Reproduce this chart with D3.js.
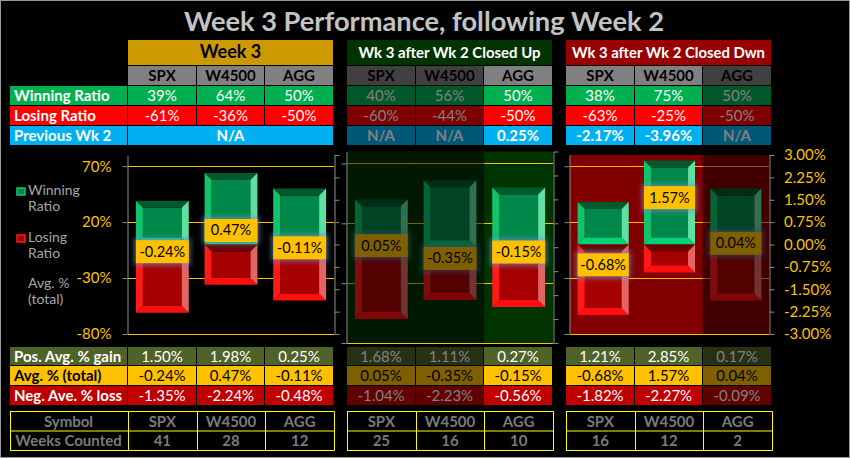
<!DOCTYPE html>
<html><head><meta charset="utf-8">
<script src="https://cdn.jsdelivr.net/npm/d3@7"></script>
<style>html,body{margin:0;padding:0;background:#000;} svg{display:block;}</style>
</head><body><svg id="c" width="850" height="458"></svg>
<script>
// ---------------- data ----------------
const title = "Week 3 Performance, following Week 2";
const groupNames = ["Week 3", "Wk 3 after Wk 2 Closed Up", "Wk 3 after Wk 2 Closed Dwn"];
const symbols = ["SPX", "W4500", "AGG"];
const winningRatio = [[39, 64, 50], [40, 56, 50], [38, 75, 50]];
const losingRatio = [[-61, -36, -50], [-60, -44, -50], [-63, -25, -50]];
const previousWk2 = [["N/A"], ["N/A", "N/A", "0.25%"], ["-2.17%", "-3.96%", "N/A"]];
const posAvgGain = [[1.50, 1.98, 0.25], [1.68, 1.11, 0.27], [1.21, 2.85, 0.17]];
const avgTotal = [[-0.24, 0.47, -0.11], [0.05, -0.35, -0.15], [-0.68, 1.57, 0.04]];
const negAvgLoss = [[-1.35, -2.24, -0.48], [-1.04, -2.23, -0.56], [-1.82, -2.27, -0.09]];
const weeksCounted = [[41, 28, 12], [25, 16, 10], [16, 12, 2]];
const highlighted = [[true, true, true], [false, false, true], [true, true, false]];
const ratioTicks = [70, 20, -30, -80];
const avgTicks = [3, 2.25, 1.5, 0.75, 0, -0.75, -1.5, -2.25, -3];
const topRowLabels = ["Winning Ratio", "Losing Ratio", "Previous Wk 2"];
const bottomRowLabels = ["Pos. Avg. % gain", "Avg. % (total)", "Neg. Ave. % loss"];
const countRowLabels = ["Symbol", "Weeks Counted"];
const legendLabels = [["Winning", "Ratio"], ["Losing", "Ratio"], ["Avg. %", "(total)"]];

// ---------------- layout / style ----------------
const F = "Lato, 'Open Sans', sans-serif";
const svg = d3.select("#c");
const tableX = [[128, 334], [347, 553], [566, 772]];
const plots = [{x0:128,x1:334,y0:155,y1:334},{x0:347,x1:553,y0:151.5,y1:343},{x0:570,x1:769,y0:155,y1:334}];
const groupFill = ["#cc9900", "#003300", "#990000"];
const groupTextColor = ["#000", "#fff", "#fff"];
const plotBg = [null, "#003300", "#800000"];
const pct = v => (v < 0 ? "-" : "") + Math.abs(v).toFixed(2) + "%";
const ratioFmt = v => v + "%";

const defs = svg.append("defs");
defs.append("filter").attr("id","glow").attr("x","-30%").attr("y","-60%").attr("width","160%").attr("height","220%")
  .append("feGaussianBlur").attr("stdDeviation", 2.6);

svg.append("rect").attr("x",0).attr("y",0).attr("width",850).attr("height",458).attr("fill","#000");
svg.append("rect").attr("x",0.5).attr("y",0.5).attr("width",849).attr("height",457).attr("fill","none").attr("stroke","#9a9a9a");

function txt(x, y, s, o = {}) {
  const t = svg.append("text").attr("x", x).attr("y", y).text(s)
    .attr("font-family", F).attr("font-size", o.size || 15)
    .attr("font-weight", o.bold ? "bold" : "normal")
    .attr("fill", o.fill || "#fff").attr("text-anchor", o.anchor || "middle");
  if (o.fit) {
    const L = t.node().getComputedTextLength();
    if (o.force || L > o.fit) t.attr("textLength", o.fit).attr("lengthAdjust", "spacingAndGlyphs");
  }
  return t;
}
function cell(x, y, w, h, fill, s, o = {}) {
  svg.append("rect").attr("x", x).attr("y", y).attr("width", w).attr("height", h).attr("fill", fill);
  if (s !== undefined && s !== null) {
    if (o.anchor === "start") txt(x + 4, y + h / 2 + 5.5, s, o);
    else txt(x + w / 2, y + h / 2 + 5.5, s, o);
  }
}

// title
txt(424, 31, title, {size: 27, bold: true, fill: "#c3c3c3", fit: 480, force: true});

// ---------------- top table ----------------
const topRows = [{y:86,h:19,fill:"#00b050"},{y:106,h:19,fill:"#ff0000"},{y:126,h:19,fill:"#00b0f0"}];
topRows.forEach((r, i) => cell(10, r.y, 117, r.h, r.fill, topRowLabels[i], {anchor:"start", bold:true}));
const botRows = [{y:347,h:18,fill:"#4f6228",tc:"#fff"},{y:366,h:19,fill:"#ffc000",tc:"#000"},{y:386,h:19,fill:"#c00000",tc:"#fff"}];
botRows.forEach((r, i) => cell(10, r.y, 117, r.h, r.fill, bottomRowLabels[i], {anchor:"start", bold:true, fill:r.tc}));

tableX.forEach(([x0, x1], g) => {
  const xb = d3.scaleBand().domain(symbols).range([x0, x1]);
  const L = s => Math.round(xb(s));
  const W = s => Math.round(xb(s) + xb.bandwidth()) - Math.round(xb(s)) - 1;
  cell(x0, 40, x1 - x0 - 1, 25, groupFill[g], groupNames[g],
       {bold:true, size: g === 0 ? 18 : 16, fill: groupTextColor[g], fit: g === 0 ? 200 : (g === 1 ? 182 : 193)});
  symbols.forEach((s, c) => {
    cell(L(s), 66, W(s), 19, "#808080", s, {bold:true, fill:"#000"});
    cell(L(s), 86, W(s), 19, "#00b050", winningRatio[g][c] + "%");
    cell(L(s), 106, W(s), 19, "#ff0000", losingRatio[g][c] + "%");
    if (previousWk2[g].length === 3) cell(L(s), 126, W(s), 19, "#00b0f0", previousWk2[g][c], {bold:true});
    cell(L(s), 347, W(s), 18, botRows[0].fill, pct(posAvgGain[g][c]), {fill: botRows[0].tc});
    cell(L(s), 366, W(s), 19, botRows[1].fill, pct(avgTotal[g][c]), {fill: botRows[1].tc});
    cell(L(s), 386, W(s), 19, botRows[2].fill, pct(negAvgLoss[g][c]), {fill: botRows[2].tc});
  });
  if (previousWk2[g].length === 1) cell(x0, 126, x1 - x0 - 1, 19, "#00b0f0", previousWk2[g][0], {bold:true});
  // dim overlays for columns not highlighted
  symbols.forEach((s, c) => {
    if (highlighted[g][c]) return;
    svg.append("rect").attr("x", L(s)).attr("y", 66).attr("width", W(s)).attr("height", 79).attr("fill", "#000").attr("opacity", 0.5);
    svg.append("rect").attr("x", L(s)).attr("y", 347).attr("width", W(s)).attr("height", 58).attr("fill", "#000").attr("opacity", 0.5);
  });
  // symbol / weeks counted table
  const tx0 = g === 0 ? 10 : x0;
  const edges = (g === 0 ? [10] : []).concat(symbols.map(s => xb(s)), [x1]);
  const tg = svg.append("g");
  [411.5, 431, 450.5].forEach(y => tg.append("line").attr("x1", tx0).attr("x2", x1 + 0.5).attr("y1", y).attr("y2", y)
    .attr("stroke", "#ffff00").attr("stroke-width", 1));
  edges.forEach(x => tg.append("line").attr("x1", Math.round(x) + 0.5).attr("x2", Math.round(x) + 0.5).attr("y1", 411.5).attr("y2", 450.5)
    .attr("stroke", "#ffff00").attr("stroke-width", 1));
  if (g === 0) {
    txt(68.5, 427, countRowLabels[0], {bold:true, fill:"#7a7a7a"});
    txt(68.5, 446, countRowLabels[1], {bold:true, fill:"#7a7a7a"});
  }
  symbols.forEach((s, c) => {
    txt(xb(s) + xb.bandwidth() / 2, 427, s, {bold:true, fill:"#7a7a7a"});
    txt(xb(s) + xb.bandwidth() / 2, 446, weeksCounted[g][c], {bold:true, fill:"#7a7a7a"});
  });
});

// ---------------- charts ----------------
const greenBevel = {face:"#00884a", top:"#005a2e", left:"#10c46e", right:"#5fe0a0", bottom:"#00d277"};
const redBevel = {face:"#a60000", top:"#6a0000", left:"#ff1a1a", right:"#e46464", bottom:"#ff0e0e"};
function bevelBar(gp, x, y, w, h, c) {
  const b = Math.min(7, h / 2, w / 2);
  const poly = (pts, f) => gp.append("polygon").attr("points", pts.map(p => p.join(",")).join(" ")).attr("fill", f);
  gp.append("rect").attr("x", x + b).attr("y", y + b).attr("width", w - 2 * b).attr("height", h - 2 * b).attr("fill", c.face);
  poly([[x, y], [x + w, y], [x + w - b, y + b], [x + b, y + b]], c.top);
  poly([[x, y + h], [x + w, y + h], [x + w - b, y + h - b], [x + b, y + h - b]], c.bottom);
  poly([[x, y], [x + b, y + b], [x + b, y + h - b], [x, y + h]], c.left);
  poly([[x + w, y], [x + w - b, y + b], [x + w - b, y + h - b], [x + w, y + h]], c.right);
}

plots.forEach((p, g) => {
  const gp = svg.append("g");
  const yP = d3.scaleLinear().domain([-80, 80]).range([p.y1, p.y0]);
  const yS = d3.scaleLinear().domain([-3, 3]).range([p.y1, p.y0]);
  const xb = d3.scaleBand().domain(symbols).range([p.x0, p.x1]).paddingInner(0.23).paddingOuter(0.115);
  if (plotBg[g]) gp.append("rect").attr("x", p.x0).attr("y", p.y0).attr("width", p.x1 - p.x0).attr("height", p.y1 - p.y0).attr("fill", plotBg[g]);
  ratioTicks.forEach(t => gp.append("line").attr("x1", p.x0).attr("x2", p.x1)
    .attr("y1", Math.round(yP(t)) + 0.5).attr("y2", Math.round(yP(t)) + 0.5).attr("stroke", "#ffc000").attr("stroke-width", 1));
  symbols.forEach((s, c) => {
    const x = xb(s), w = xb.bandwidth();
    bevelBar(gp, x, yP(winningRatio[g][c]), w, yP(0) - yP(winningRatio[g][c]), greenBevel);
    bevelBar(gp, x, yP(0), w, yP(losingRatio[g][c]) - yP(0), redBevel);
  });
  symbols.forEach((s, c) => {
    const x = xb(s), w = xb.bandwidth(), yc = yS(avgTotal[g][c]);
    gp.append("rect").attr("x", x - 2).attr("y", yc - 14).attr("width", w + 4).attr("height", 28)
      .attr("fill", "#6f90c8").attr("opacity", 0.6).attr("filter", "url(#glow)");
    gp.append("rect").attr("x", x).attr("y", yc - 11.5).attr("width", w).attr("height", 23).attr("fill", "#ffc000");
    gp.append("text").attr("x", x + w / 2).attr("y", yc + 5).attr("text-anchor", "middle")
      .attr("font-family", F).attr("font-size", 14.5).attr("fill", "#000").text(pct(avgTotal[g][c]));
  });
  const step = xb.step();
  symbols.forEach((s, c) => {
    if (highlighted[g][c]) return;
    gp.append("rect").attr("x", p.x0 + c * step).attr("y", p.y0).attr("width", step).attr("height", p.y1 - p.y0)
      .attr("fill", "#000").attr("opacity", 0.5);
  });
  // axes
  const axL = svg.append("g").attr("transform", `translate(${p.x0 - 0.5},0)`)
    .call(d3.axisLeft(yP).tickValues(ratioTicks).tickSize(5).tickSizeOuter(0).tickPadding(11)
      .tickFormat(g === 0 ? ratioFmt : () => ""));
  const axR = svg.append("g").attr("transform", `translate(${p.x1 + 0.5},0)`)
    .call(d3.axisRight(yS).tickValues(avgTicks).tickSize(5).tickSizeOuter(0).tickPadding(9.5)
      .tickFormat(g === 2 ? pct : () => ""));
  [axL, axR].forEach(ax => {
    ax.select(".domain").attr("stroke", "#8c8c8c");
    ax.selectAll(".tick line").attr("stroke", "#8c8c8c");
    ax.selectAll("text").attr("fill", "#ffc000").attr("font-family", F).attr("font-size", 15);
  });
});

// ---------------- legend ----------------
const legendColors = [greenBevel, redBevel, null];
const legendY = [195, 242, 288];
legendLabels.forEach((lines, i) => {
  const c = legendColors[i];
  if (c) {
    svg.append("rect").attr("x", 17).attr("y", legendY[i] - 7).attr("width", 8).attr("height", 7)
      .attr("fill", c.face).attr("stroke", c.left).attr("stroke-width", 1.5);
  }
  lines.forEach((s, j) => txt(28, legendY[i] + j * 16, s, {anchor:"start", size:14, fill:"#a6a6a6"}));
});
</script>
</body></html>
